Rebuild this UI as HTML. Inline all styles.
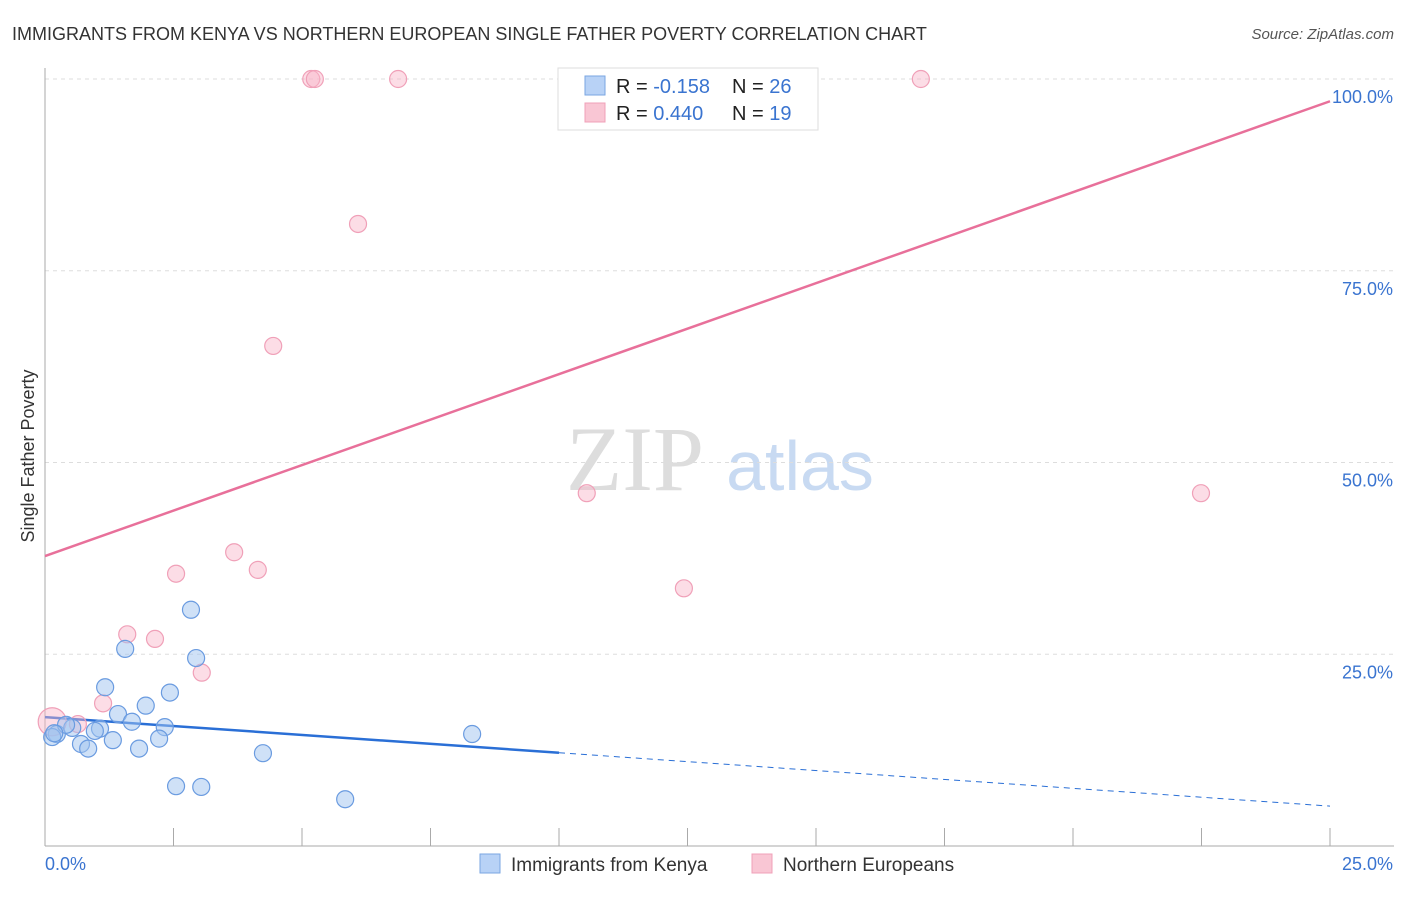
<!DOCTYPE html>
<html><head><meta charset="utf-8"><style>
body{margin:0;background:#fff;font-family:"Liberation Sans",sans-serif;}
svg text{font-family:"Liberation Sans",sans-serif;}
</style></head><body>
<svg id="chart" width="1406" height="892" xmlns="http://www.w3.org/2000/svg">
<text x="12" y="40" font-size="18" fill="#333">IMMIGRANTS FROM KENYA VS NORTHERN EUROPEAN SINGLE FATHER POVERTY CORRELATION CHART</text>
<text x="1394" y="39" font-size="15" fill="#555" font-style="italic" text-anchor="end">Source: ZipAtlas.com</text>
<text transform="translate(34,456) rotate(-90)" font-size="18" fill="#333" text-anchor="middle">Single Father Poverty</text>
<g><text x="635" y="490" font-size="92" fill="#ddd" font-family="Liberation Serif" text-anchor="middle" style="font-family:'Liberation Serif',serif">ZIP</text><text x="800" y="490" font-size="70" fill="#c8daf2" text-anchor="middle">atlas</text></g>
<g id="grid"></g><g id="axes"></g><g id="lines"></g><g id="pts"></g>
<g>
<rect x="558" y="68" width="260" height="62" fill="#fff" stroke="#ddd"/>
<rect x="585" y="76" width="20" height="19" fill="#b8d2f6" stroke="#7aa6e2"/>
<rect x="585" y="103" width="20" height="19" fill="#f9c6d4" stroke="#f0a0b8"/>
<text x="616" y="93" font-size="20" fill="#222">R = <tspan fill="#3a74d0">-0.158</tspan></text>
<text x="732" y="93" font-size="20" fill="#222">N = <tspan fill="#3a74d0">26</tspan></text>
<text x="616" y="120" font-size="20" fill="#222">R = <tspan fill="#3a74d0"> 0.440</tspan></text>
<text x="732" y="120" font-size="20" fill="#222">N = <tspan fill="#3a74d0"> 19</tspan></text>
</g>
<g>
<rect x="480" y="854" width="20" height="19" fill="#b8d2f6" stroke="#7aa6e2"/>
<text x="511" y="871" font-size="19" fill="#333">Immigrants from Kenya</text>
<rect x="752" y="854" width="20" height="19" fill="#f9c6d4" stroke="#f0a0b8"/>
<text x="783" y="871" font-size="19" fill="#333">Northern Europeans</text>
</g>
</svg>
<script>
const yTicks=[25,50,75,100];
const yTickLabels=["25.0%","50.0%","75.0%","100.0%"];
const xTicks=[0,2.5,5,7.5,10,12.5,15,17.5,20,22.5,25];
const kenyaX=[2.84,2.94,1.56,1.17,2.43,1.96,1.42,1.69,2.33,1.07,0.97,0.23,0.53,1.32,2.22,0.70,0.84,1.83,4.24,8.31,2.55,3.04,5.84,0.14,0.41,0.18];
const kenyaY=[30.8,24.5,25.7,20.7,20.0,18.3,17.2,16.2,15.5,15.3,15.0,14.6,15.4,13.8,14.0,13.3,12.7,12.7,12.1,14.6,7.8,7.7,6.1,14.2,15.8,14.7];
const northX=[5.18,5.25,6.87,14.11,17.04,6.09,4.44,10.54,22.49,3.68,4.14,2.55,12.43,1.60,2.14,3.05,1.13,0.64,0.14];
const northY=[100,100,100,100,100,81.1,65.2,46.0,46.0,38.3,36.0,35.5,33.6,27.6,27.0,22.6,18.6,15.9,16.2];
const northR=[8.5,8.5,8.5,8.5,8.5,8.5,8.5,8.5,8.5,8.5,8.5,8.5,8.5,8.5,8.5,8.5,8.5,8.5,14];
const kenyaTrend=[16.8,5.2]; const northTrend=[37.8,97.1];
const X=v=>45+v/25*1285, Y=v=>846-v/100*767;
const NS="http://www.w3.org/2000/svg";
function mk(p,t,a){const e=document.createElementNS(NS,t);for(const k in a)e.setAttribute(k,a[k]);document.getElementById(p).appendChild(e);return e;}
yTicks.forEach((t,i)=>{
 const l=mk('grid','line',{x1:45,x2:1394,y1:Y(t),y2:Y(t),stroke:'#ddd','stroke-dasharray':'4,4'});
 
 
 const tx=mk('grid','text',{x:1393,y:Y(t)+24,'font-size':18,fill:'#3a74d0','text-anchor':'end'});
 tx.textContent=yTickLabels[i];
 
 
});
const ax=mk('axes','line',{x1:45,x2:45,y1:68,y2:846,stroke:'#aaa'});


const bx=mk('axes','line',{x1:45,x2:1394,y1:846,y2:846,stroke:'#aaa'});


xTicks.forEach(t=>{const l=mk('axes','line',{x1:X(t),x2:X(t),y1:828,y2:846,stroke:'#aaa'});
 
 });
const xl0=mk('axes','text',{x:45,y:870,'font-size':18,fill:'#3a74d0'});xl0.textContent='0.0%';


const xl1=mk('axes','text',{x:1393,y:870,'font-size':18,fill:'#3a74d0','text-anchor':'end'});xl1.textContent='25.0%';


const pl=mk('lines','line',{x1:X(0),y1:Y(northTrend[0]),x2:X(25),y2:Y(northTrend[1]),stroke:'#e8709a','stroke-width':2.5});


const kAt=v=>kenyaTrend[0]+(kenyaTrend[1]-kenyaTrend[0])*v/25;
const kl=mk('lines','line',{x1:X(0),y1:Y(kAt(0)),x2:X(10),y2:Y(kAt(10)),stroke:'#2a6fd6','stroke-width':2.5});


const kd=mk('lines','line',{x1:X(10),y1:Y(kAt(10)),x2:X(25),y2:Y(kAt(25)),stroke:'#2a6fd6','stroke-width':1,'stroke-dasharray':'6,5'});


northX.forEach((x,i)=>{const c=mk('pts','circle',{cx:X(x),cy:Y(northY[i]),r:northR[i],fill:'rgba(248,180,200,0.45)',stroke:'#f0a0b8','stroke-width':1.2});
 
 });
kenyaX.forEach((x,i)=>{const c=mk('pts','circle',{cx:X(x),cy:Y(kenyaY[i]),r:8.5,fill:'rgba(160,196,240,0.5)',stroke:'#6a9be0','stroke-width':1.2});
 
 });
</script>
</body></html>
